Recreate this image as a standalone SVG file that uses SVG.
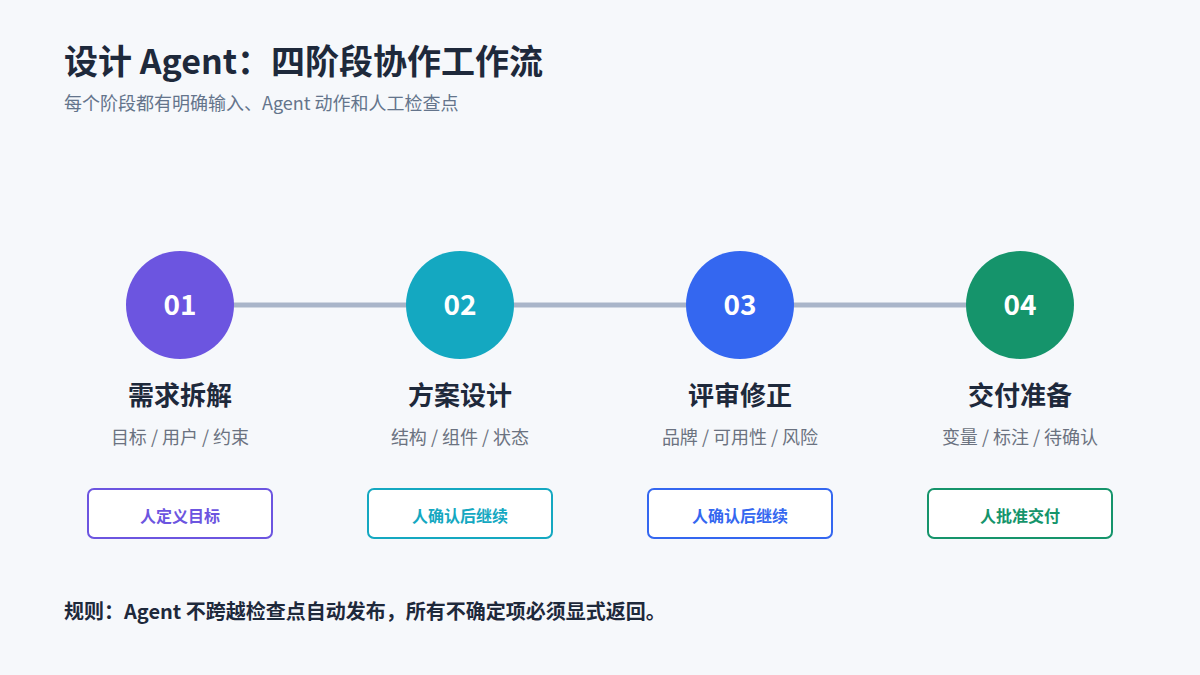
<svg xmlns="http://www.w3.org/2000/svg" width="1200" height="675" viewBox="0 0 1200 675">
<style>
text{font-family:"Noto Sans CJK SC","Noto Sans",sans-serif}
.num{fill:#fff;font-size:28px;font-weight:700;text-anchor:middle}
.st{fill:#1e293b;font-size:26px;font-weight:700;text-anchor:middle}
.sub{fill:#6b7280;font-size:18px;text-anchor:middle}
.box{fill:#fff;stroke-width:2}
.bt{font-size:16px;font-weight:700;text-anchor:middle}
</style>
<rect width="1200" height="675" fill="#f6f8fb"/>
<text x="64" y="74" font-size="34" font-weight="700" fill="#1e293b">设计 Agent：四阶段协作工作流</text>
<text x="64" y="110" font-size="18" fill="#64748b">每个阶段都有明确输入、Agent 动作和人工检查点</text>
<g id="connectors"><line x1="180" y1="305" x2="1020" y2="305" stroke="#a9b5c9" stroke-width="5"/></g>
<g id="n1"><circle cx="180" cy="305" r="54" fill="#6c55e0"/><text class="num" x="180" y="315">01</text><text class="st" x="180" y="405">需求拆解</text><text class="sub" x="180" y="444">目标 / 用户 / 约束</text><rect class="box" x="88" y="489" width="184" height="49" rx="6" stroke="#6c55e0"/><text class="bt" x="180" y="522" fill="#6c55e0">人定义目标</text></g>
<g id="n2"><circle cx="460" cy="305" r="54" fill="#14a8c1"/><text class="num" x="460" y="315">02</text><text class="st" x="460" y="405">方案设计</text><text class="sub" x="460" y="444">结构 / 组件 / 状态</text><rect class="box" x="368" y="489" width="184" height="49" rx="6" stroke="#14a8c1"/><text class="bt" x="460" y="522" fill="#14a8c1">人确认后继续</text></g>
<g id="n3"><circle cx="740" cy="305" r="54" fill="#3467f0"/><text class="num" x="740" y="315">03</text><text class="st" x="740" y="405">评审修正</text><text class="sub" x="740" y="444">品牌 / 可用性 / 风险</text><rect class="box" x="648" y="489" width="184" height="49" rx="6" stroke="#3467f0"/><text class="bt" x="740" y="522" fill="#3467f0">人确认后继续</text></g>
<g id="n4"><circle cx="1020" cy="305" r="54" fill="#15946b"/><text class="num" x="1020" y="315">04</text><text class="st" x="1020" y="405">交付准备</text><text class="sub" x="1020" y="444">变量 / 标注 / 待确认</text><rect class="box" x="928" y="489" width="184" height="49" rx="6" stroke="#15946b"/><text class="bt" x="1020" y="522" fill="#15946b">人批准交付</text></g>
<text x="64" y="619" font-size="20" font-weight="700" fill="#1e293b">规则：Agent 不跨越检查点自动发布，所有不确定项必须显式返回。</text>
</svg>
